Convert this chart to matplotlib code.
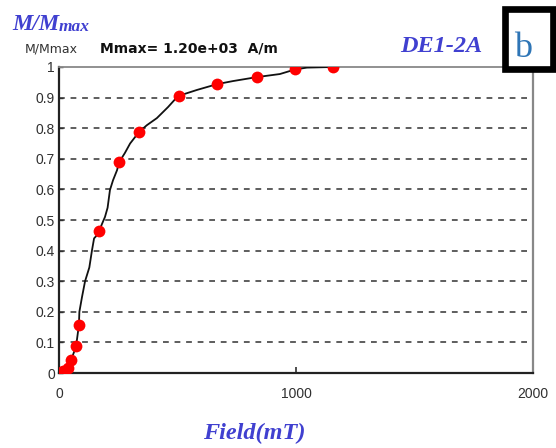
import matplotlib
matplotlib.use("Agg")
import matplotlib.pyplot as plt
from matplotlib.patches import Rectangle

# Normalised magnetisation during stepwise field acquisition (sample DE1-2A)
step_field = [0, 17, 38, 51, 72, 84, 169, 253, 338, 506, 667, 835, 996, 1156]
step_m = [0.0, 0.007, 0.016, 0.042, 0.087, 0.157, 0.464, 0.688, 0.788,
          0.905, 0.944, 0.967, 0.992, 1.0]

# Continuous acquisition trace
trace_field = [0, 17, 38, 51, 72, 84, 86, 97, 110, 128, 139, 148, 160, 169,
               183, 194, 205, 215, 228, 245, 253, 278, 300, 338, 371, 413,
               460, 502, 582, 667, 734, 835, 932, 996, 1046, 1156]
trace_m = [0.0, 0.007, 0.016, 0.042, 0.087, 0.157, 0.20, 0.248, 0.30, 0.345,
           0.40, 0.44, 0.45, 0.464, 0.49, 0.51, 0.54, 0.598, 0.63, 0.663,
           0.688, 0.719, 0.75, 0.788, 0.81, 0.833, 0.869, 0.905, 0.925,
           0.944, 0.954, 0.967, 0.977, 0.992, 0.998, 1.0]

y_ticks = [0, 0.1, 0.2, 0.3, 0.4, 0.5, 0.6, 0.7, 0.8, 0.9, 1]
y_tick_labels = ["0", "0.1", "0.2", "0.3", "0.4", "0.5", "0.6", "0.7", "0.8", "0.9", "1"]
x_ticks = [0, 1000, 2000]
x_tick_labels = ["0", "1000", "2000"]

W, H = 556, 448
BLUE = "#4040d0"
SERIF = "Liberation Serif"

fig = plt.figure(figsize=(W / 100, H / 100), dpi=100)
fig.patch.set_facecolor("white")


def fx(px):
    return px / W


def fy(py):
    return 1 - py / H


ax = fig.add_axes([fx(59), fy(373), fx(533) - fx(59), fy(67) - fy(373)])
ax.set_xlim(0, 2000)
ax.set_ylim(0, 1)

for g in y_ticks[1:-1]:
    ax.axhline(g, color="#505050", lw=1.3, linestyle=(0, (3.2, 3.2)), zorder=1)

ax.plot(trace_field, trace_m, color="#111111", lw=1.3, zorder=3)
ax.plot(step_field, step_m, linestyle="none", marker="o", markersize=8.5,
        color="#ff0000", markeredgewidth=0, zorder=4)

ax.set_yticks(y_ticks)
ax.set_yticklabels(y_tick_labels)
ax.set_xticks(x_ticks)
ax.set_xticklabels(x_tick_labels)
ax.tick_params(axis="y", direction="in", length=3, width=1, pad=3,
               labelsize=10, labelcolor="#303030", color="#303030")
ax.tick_params(axis="x", direction="in", length=4, width=1.2, pad=10,
               labelsize=10, labelcolor="#303030", color="#303030")
for lab in ax.get_xticklabels() + ax.get_yticklabels():
    lab.set_fontfamily("Liberation Sans")

ax.spines["left"].set_color("#222222")
ax.spines["left"].set_linewidth(1.6)
ax.spines["bottom"].set_color("#222222")
ax.spines["bottom"].set_linewidth(1.6)
ax.spines["top"].set_color("#888888")
ax.spines["top"].set_linewidth(1.3)
ax.spines["right"].set_color("#888888")
ax.spines["right"].set_linewidth(1.6)

# Header texts
t1 = fig.text(fx(12), fy(30), "M/M", fontsize=16.5, family=SERIF,
              style="italic", weight="bold", color=BLUE, va="baseline", ha="left")
fig.texts.append(plt.Annotation("max", xy=(1, 0), xycoords=t1, fontsize=12.5,
                                family=SERIF, style="italic", weight="bold",
                                color=BLUE, va="bottom", ha="left",
                                annotation_clip=False))
fig.texts[-1].figure = fig

fig.text(fx(25), fy(53), "M/Mmax", fontsize=9, family="DejaVu Sans",
         color="#333333", va="baseline", ha="left")
fig.text(fx(100), fy(53), "Mmax= 1.20e+03  A/m", fontsize=10,
         family="DejaVu Sans", weight="bold", color="#111111",
         va="baseline", ha="left")
fig.text(fx(482), fy(52), "DE1-2A", fontsize=17.5, family=SERIF,
         style="italic", weight="bold", color=BLUE, va="baseline", ha="right")

fig.text(fx(203), fy(439), "Field(mT)", fontsize=17.5, family=SERIF,
         style="italic", weight="bold", color=BLUE, va="baseline", ha="left")

# Panel letter box
box = Rectangle((fx(505), fy(69.5)), fx(553) - fx(505), fy(9.5) - fy(69.5),
                transform=fig.transFigure, facecolor="white",
                edgecolor="black", linewidth=4.8, zorder=10, clip_on=False)
fig.patches.append(box)
fig.text(fx(523), fy(57), "b", fontsize=26, family=SERIF, color="#2e75b6",
         va="baseline", ha="center", zorder=11)

fig.savefig("out.png", dpi=100)
